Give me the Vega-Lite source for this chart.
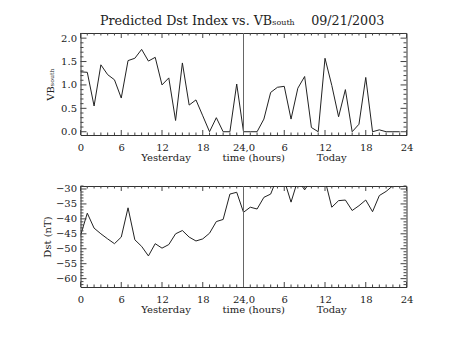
{
  "$schema": "https://vega.github.io/schema/vega-lite/v6.json",
  "padding": {"left": 41.5, "top": 15, "right": 5, "bottom": 5},
  "title": {"text": "Predicted Dst Index vs. VBₛₒᵤₜₕ \u00a0\u00a0\u00a009/21/2003", "font": "DejaVu Serif", "fontSize": 12.7, "fontWeight": "normal", "color": "#222", "anchor": "middle", "offset": 4, "dx": 14.5},
  "config": {
    "view": {"stroke": "#333", "strokeWidth": 1},
    "axis": {"labelFont": "DejaVu Serif", "titleFont": "DejaVu Serif", "labelFontSize": 10, "titleFontSize": 10, "labelColor": "#222", "titleColor": "#222", "titleFontWeight": "normal", "ticks": false, "grid": false, "domain": false, "labelFlush": false, "labelOverlap": false, "labelBound": false}
  },
  "datasets": {
    "vb": [
      {"t":0,"v":1.28},{"t":1,"v":1.27},{"t":2,"v":0.55},{"t":3,"v":1.43},{"t":4,"v":1.22},{"t":5,"v":1.11},{"t":6,"v":0.72},{"t":7,"v":1.52},{"t":8,"v":1.57},{"t":9,"v":1.76},{"t":10,"v":1.51},{"t":11,"v":1.59},{"t":12,"v":1.0},{"t":13,"v":1.15},{"t":14,"v":0.24},{"t":15,"v":1.47},{"t":16,"v":0.57},{"t":17,"v":0.68},{"t":18,"v":0.34},{"t":19,"v":0},{"t":20,"v":0.3},{"t":21,"v":0},{"t":22,"v":0},{"t":23,"v":1.02},{"t":24,"v":0},{"t":25,"v":0},{"t":26,"v":0},{"t":27,"v":0.27},{"t":28,"v":0.84},{"t":29,"v":0.95},{"t":30,"v":0.97},{"t":31,"v":0.27},{"t":32,"v":0.93},{"t":33,"v":1.18},{"t":34,"v":0.09},{"t":35,"v":0},{"t":36,"v":1.57},{"t":37,"v":0.99},{"t":38,"v":0.32},{"t":39,"v":0.9},{"t":40,"v":0},{"t":41,"v":0.16},{"t":42,"v":1.16},{"t":43,"v":0},{"t":44,"v":0.04},{"t":45,"v":0},{"t":46,"v":0},{"t":47,"v":0}
    ],
    "dst": [
      {"t":0,"v":-45.6},{"t":1,"v":-38.1},{"t":2,"v":-43.1},{"t":3,"v":-45},{"t":4,"v":-46.7},{"t":5,"v":-48.3},{"t":6,"v":-46.1},{"t":7,"v":-36.3},{"t":8,"v":-47},{"t":9,"v":-49.2},{"t":10,"v":-52.4},{"t":11,"v":-48.3},{"t":12,"v":-49.8},{"t":13,"v":-48.6},{"t":14,"v":-45},{"t":15,"v":-43.9},{"t":16,"v":-46.1},{"t":17,"v":-47.4},{"t":18,"v":-46.7},{"t":19,"v":-44.8},{"t":20,"v":-40.9},{"t":21,"v":-40.2},{"t":22,"v":-31.7},{"t":23,"v":-31.1},{"t":24,"v":-37.8},{"t":25,"v":-36.1},{"t":26,"v":-36.7},{"t":27,"v":-32.8},{"t":28,"v":-31.7},{"t":29,"v":-26},{"t":30,"v":-27},{"t":31,"v":-34.4},{"t":32,"v":-27},{"t":33,"v":-30.3},{"t":34,"v":-27},{"t":35,"v":-26},{"t":36,"v":-27},{"t":37,"v":-36.1},{"t":38,"v":-33.9},{"t":39,"v":-33.7},{"t":40,"v":-37.2},{"t":41,"v":-35.6},{"t":42,"v":-33.7},{"t":43,"v":-37.6},{"t":44,"v":-32.2},{"t":45,"v":-30.8},{"t":46,"v":-28.9},{"t":47,"v":-27.5}
    ],
    "hours": [{"h":0},{"h":1},{"h":2},{"h":3},{"h":4},{"h":5},{"h":6},{"h":7},{"h":8},{"h":9},{"h":10},{"h":11},{"h":12},{"h":13},{"h":14},{"h":15},{"h":16},{"h":17},{"h":18},{"h":19},{"h":20},{"h":21},{"h":22},{"h":23},{"h":24},{"h":25},{"h":26},{"h":27},{"h":28},{"h":29},{"h":30},{"h":31},{"h":32},{"h":33},{"h":34},{"h":35},{"h":36},{"h":37},{"h":38},{"h":39},{"h":40},{"h":41},{"h":42},{"h":43},{"h":44},{"h":45},{"h":46},{"h":47},{"h":48}],
    "vbticks": [{"y":0},{"y":0.1},{"y":0.2},{"y":0.3},{"y":0.4},{"y":0.5},{"y":0.6},{"y":0.7},{"y":0.8},{"y":0.9},{"y":1},{"y":1.1},{"y":1.2},{"y":1.3},{"y":1.4},{"y":1.5},{"y":1.6},{"y":1.7},{"y":1.8},{"y":1.9},{"y":2},{"y":2.1}],
    "dstticks": [{"y":-62},{"y":-61},{"y":-60},{"y":-59},{"y":-58},{"y":-57},{"y":-56},{"y":-55},{"y":-54},{"y":-53},{"y":-52},{"y":-51},{"y":-50},{"y":-49},{"y":-48},{"y":-47},{"y":-46},{"y":-45},{"y":-44},{"y":-43},{"y":-42},{"y":-41},{"y":-40},{"y":-39},{"y":-38},{"y":-37},{"y":-36},{"y":-35},{"y":-34},{"y":-33},{"y":-32},{"y":-31},{"y":-30},{"y":-29}],
    "divider": [{"x": 24}]
  },
  "spacing": 20,
  "vconcat": [
    {
      "width": 326, "height": 102,
      "layer": [
        {"data": {"name": "vb"},
         "mark": {"type": "line", "clip": true, "color": "#222", "strokeWidth": 1},
         "encoding": {
           "x": {"field": "t", "type": "quantitative", "scale": {"domain": [0, 48], "nice": false, "zero": false},
                 "axis": {"orient": "bottom", "values": [0,6,12,18,24,30,36,42,48], "labelPadding": 7, "labelExpr": "datum.value == 24 ? '24,0' : datum.value > 24 ? format(datum.value - 24, 'd') : format(datum.value, 'd')", "title": "Yesterday\u00a0\u00a0\u00a0\u00a0\u00a0\u00a0\u00a0\u00a0\u00a0\u00a0time (hours)\u00a0\u00a0\u00a0\u00a0\u00a0\u00a0\u00a0\u00a0\u00a0\u00a0Today", "titlePadding": 0}},
           "y": {"field": "v", "type": "quantitative", "scale": {"domain": [-0.07, 2.11], "nice": false, "zero": false},
                 "axis": {"orient": "left", "values": [0, 0.5, 1, 1.5, 2], "format": ".1f", "labelPadding": 4, "title": "VBₛₒᵤₜₕ", "titlePadding": 5}}
         }},
        {"data": {"name": "hours"}, "transform": [{"filter": "datum.h % 6 === 0"}],
         "mark": {"type": "rule", "color": "#444", "strokeWidth": 1},
         "encoding": {"x": {"field": "h", "type": "quantitative", "axis": null}, "y": {"datum": -0.07, "type": "quantitative", "axis": null}, "y2": {"datum": 0.037}}},
        {"data": {"name": "hours"}, "transform": [{"filter": "datum.h % 6 !== 0"}],
         "mark": {"type": "rule", "color": "#444", "strokeWidth": 1},
         "encoding": {"x": {"field": "h", "type": "quantitative", "axis": null}, "y": {"datum": -0.07, "type": "quantitative", "axis": null}, "y2": {"datum": -0.017}}},
        {"data": {"name": "hours"}, "transform": [{"filter": "datum.h % 6 === 0"}],
         "mark": {"type": "rule", "color": "#444", "strokeWidth": 1},
         "encoding": {"x": {"field": "h", "type": "quantitative", "axis": null}, "y": {"datum": 2.11, "type": "quantitative", "axis": null}, "y2": {"datum": 2.003}}},
        {"data": {"name": "hours"}, "transform": [{"filter": "datum.h % 6 !== 0"}],
         "mark": {"type": "rule", "color": "#444", "strokeWidth": 1},
         "encoding": {"x": {"field": "h", "type": "quantitative", "axis": null}, "y": {"datum": 2.11, "type": "quantitative", "axis": null}, "y2": {"datum": 2.057}}},
        {"data": {"name": "vbticks"}, "transform": [{"filter": "abs(datum.y * 2 - round(datum.y * 2)) < 0.001"}],
         "mark": {"type": "rule", "color": "#444", "strokeWidth": 1},
         "encoding": {"y": {"field": "y", "type": "quantitative", "axis": null}, "x": {"datum": 0, "type": "quantitative", "axis": null}, "x2": {"datum": 0.88}}},
        {"data": {"name": "vbticks"}, "transform": [{"filter": "abs(datum.y * 2 - round(datum.y * 2)) >= 0.001"}],
         "mark": {"type": "rule", "color": "#444", "strokeWidth": 1},
         "encoding": {"y": {"field": "y", "type": "quantitative", "axis": null}, "x": {"datum": 0, "type": "quantitative", "axis": null}, "x2": {"datum": 0.44}}},
        {"data": {"name": "vbticks"}, "transform": [{"filter": "abs(datum.y * 2 - round(datum.y * 2)) < 0.001"}],
         "mark": {"type": "rule", "color": "#444", "strokeWidth": 1},
         "encoding": {"y": {"field": "y", "type": "quantitative", "axis": null}, "x": {"datum": 48, "type": "quantitative", "axis": null}, "x2": {"datum": 47.12}}},
        {"data": {"name": "vbticks"}, "transform": [{"filter": "abs(datum.y * 2 - round(datum.y * 2)) >= 0.001"}],
         "mark": {"type": "rule", "color": "#444", "strokeWidth": 1},
         "encoding": {"y": {"field": "y", "type": "quantitative", "axis": null}, "x": {"datum": 48, "type": "quantitative", "axis": null}, "x2": {"datum": 47.56}}},
        {"data": {"name": "divider"},
         "mark": {"type": "rule", "color": "#666", "strokeWidth": 1},
         "encoding": {"x": {"field": "x", "type": "quantitative", "axis": null}}}
      ],
      "resolve": {"axis": {"x": "independent", "y": "independent"}}
    },
    {
      "width": 326, "height": 101,
      "layer": [
        {"data": {"name": "dst"},
         "mark": {"type": "line", "clip": true, "color": "#222", "strokeWidth": 1},
         "encoding": {
           "x": {"field": "t", "type": "quantitative", "scale": {"domain": [0, 48], "nice": false, "zero": false},
                 "axis": {"orient": "bottom", "values": [0,6,12,18,24,30,36,42,48], "labelPadding": 7, "labelExpr": "datum.value == 24 ? '24,0' : datum.value > 24 ? format(datum.value - 24, 'd') : format(datum.value, 'd')", "title": "Yesterday\u00a0\u00a0\u00a0\u00a0\u00a0\u00a0\u00a0\u00a0\u00a0\u00a0time (hours)\u00a0\u00a0\u00a0\u00a0\u00a0\u00a0\u00a0\u00a0\u00a0\u00a0Today", "titlePadding": 0}},
           "y": {"field": "v", "type": "quantitative", "scale": {"domain": [-62.8, -29], "nice": false, "zero": false},
                 "axis": {"orient": "left", "values": [-60, -55, -50, -45, -40, -35, -30], "format": "d", "labelPadding": 4, "title": "Dst (nT)", "titlePadding": 3}}
         }},
        {"data": {"name": "hours"}, "transform": [{"filter": "datum.h % 6 === 0"}],
         "mark": {"type": "rule", "color": "#444", "strokeWidth": 1},
         "encoding": {"x": {"field": "h", "type": "quantitative", "axis": null}, "y": {"datum": -62.8, "type": "quantitative", "axis": null}, "y2": {"datum": -61.13}}},
        {"data": {"name": "hours"}, "transform": [{"filter": "datum.h % 6 !== 0"}],
         "mark": {"type": "rule", "color": "#444", "strokeWidth": 1},
         "encoding": {"x": {"field": "h", "type": "quantitative", "axis": null}, "y": {"datum": -62.8, "type": "quantitative", "axis": null}, "y2": {"datum": -61.96}}},
        {"data": {"name": "hours"}, "transform": [{"filter": "datum.h % 6 === 0"}],
         "mark": {"type": "rule", "color": "#444", "strokeWidth": 1},
         "encoding": {"x": {"field": "h", "type": "quantitative", "axis": null}, "y": {"datum": -29, "type": "quantitative", "axis": null}, "y2": {"datum": -30.67}}},
        {"data": {"name": "hours"}, "transform": [{"filter": "datum.h % 6 !== 0"}],
         "mark": {"type": "rule", "color": "#444", "strokeWidth": 1},
         "encoding": {"x": {"field": "h", "type": "quantitative", "axis": null}, "y": {"datum": -29, "type": "quantitative", "axis": null}, "y2": {"datum": -29.84}}},
        {"data": {"name": "dstticks"}, "transform": [{"filter": "datum.y % 5 === 0"}],
         "mark": {"type": "rule", "color": "#444", "strokeWidth": 1},
         "encoding": {"y": {"field": "y", "type": "quantitative", "axis": null}, "x": {"datum": 0, "type": "quantitative", "axis": null}, "x2": {"datum": 0.88}}},
        {"data": {"name": "dstticks"}, "transform": [{"filter": "datum.y % 5 !== 0"}],
         "mark": {"type": "rule", "color": "#444", "strokeWidth": 1},
         "encoding": {"y": {"field": "y", "type": "quantitative", "axis": null}, "x": {"datum": 0, "type": "quantitative", "axis": null}, "x2": {"datum": 0.44}}},
        {"data": {"name": "dstticks"}, "transform": [{"filter": "datum.y % 5 === 0"}],
         "mark": {"type": "rule", "color": "#444", "strokeWidth": 1},
         "encoding": {"y": {"field": "y", "type": "quantitative", "axis": null}, "x": {"datum": 48, "type": "quantitative", "axis": null}, "x2": {"datum": 47.12}}},
        {"data": {"name": "dstticks"}, "transform": [{"filter": "datum.y % 5 !== 0"}],
         "mark": {"type": "rule", "color": "#444", "strokeWidth": 1},
         "encoding": {"y": {"field": "y", "type": "quantitative", "axis": null}, "x": {"datum": 48, "type": "quantitative", "axis": null}, "x2": {"datum": 47.56}}},
        {"data": {"name": "divider"},
         "mark": {"type": "rule", "color": "#666", "strokeWidth": 1},
         "encoding": {"x": {"field": "x", "type": "quantitative", "axis": null}}}
      ],
      "resolve": {"axis": {"x": "independent", "y": "independent"}}
    }
  ]
}
